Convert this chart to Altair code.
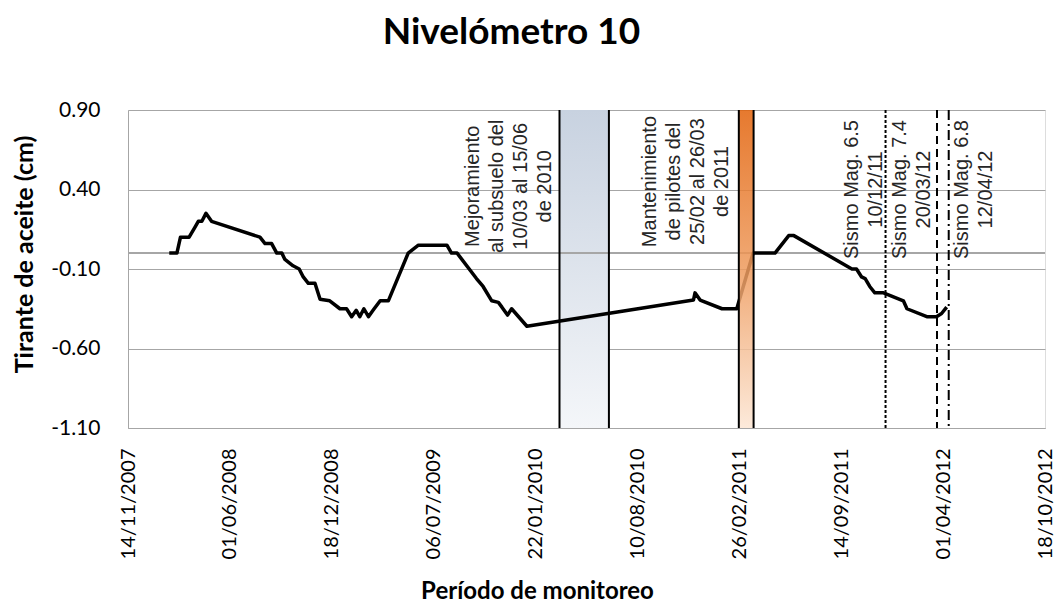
import altair as alt
import pandas as pd

# ---- data ----
fechas = [
    "2008-02-03", "2008-02-18", "2008-02-25", "2008-03-13", "2008-03-24", "2008-03-31",
    "2008-04-07", "2008-04-15", "2008-04-26", "2008-07-30", "2008-08-09", "2008-08-22",
    "2008-09-01", "2008-09-11", "2008-09-17", "2008-10-03", "2008-10-15", "2008-10-23",
    "2008-11-02", "2008-11-15", "2008-11-25", "2008-12-14", "2009-01-03", "2009-01-16",
    "2009-01-26", "2009-02-04", "2009-02-11", "2009-02-19", "2009-02-28", "2009-03-09",
    "2009-03-23", "2009-04-08", "2009-05-17", "2009-06-06", "2009-08-01", "2009-08-10",
    "2009-08-21", "2009-09-28", "2009-10-11", "2009-10-28", "2009-11-10", "2009-11-17",
    "2009-11-28", "2009-12-06", "2010-01-05", "2010-11-28", "2010-12-01", "2010-12-11",
    "2011-01-23", "2011-02-21", "2011-03-25", "2011-05-07", "2011-06-03", "2011-06-13",
    "2011-10-05", "2011-10-14", "2011-10-24", "2011-10-31", "2011-11-09", "2011-11-19",
    "2011-12-06", "2012-01-14", "2012-01-21", "2012-02-29", "2012-03-19", "2012-03-29",
    "2012-04-08",
]
tirante = [
    0.00, 0.00, 0.10, 0.10, 0.16, 0.20,
    0.20, 0.25, 0.20, 0.10, 0.06, 0.06,
    0.00, 0.00, -0.04, -0.08, -0.10, -0.15,
    -0.19, -0.19, -0.29, -0.30, -0.35, -0.35,
    -0.40, -0.36, -0.40, -0.35, -0.40, -0.36,
    -0.30, -0.30, 0.00, 0.05, 0.05, 0.00,
    0.00, -0.16, -0.21, -0.30, -0.31, -0.34,
    -0.39, -0.35, -0.46, -0.295, -0.25, -0.295,
    -0.35, -0.35, 0.00, 0.00, 0.11, 0.11,
    -0.10, -0.10, -0.15, -0.16, -0.21, -0.25,
    -0.25, -0.30, -0.35, -0.40, -0.40, -0.38,
    -0.34,
]

banda_azul = ["2010-03-10", "2010-06-15"]
banda_naranja = ["2011-02-25", "2011-03-26"]
sismos = ["2011-12-10", "2012-03-20", "2012-04-12"]

textos = [
    "Mejoramiento\nal subsuelo del\n10/03 al 15/06\nde 2010",
    "Mantenimiento\nde pilotes del\n25/02 al 26/03\nde 2011",
    "Sismo Mag.  6.5\n10/12/11",
    "Sismo Mag.  7.4\n20/03/12",
    "Sismo Mag.  6.8\n12/04/12",
]
fechas_texto = ["2010-03-10", "2011-02-25", "2011-12-10", "2012-03-20", "2012-04-12"]
altura_texto = [0.42, 0.45, 0.40, 0.40, 0.40]

x_ticks = ["2007-11-14", "2008-06-01", "2008-12-18", "2009-07-06", "2010-01-22",
           "2010-08-10", "2011-02-26", "2011-09-14", "2012-04-01", "2012-10-18"]
y_ticks = [-1.10, -0.60, -0.10, 0.40, 0.90]

# ---- scales / axes ----
def ms(s):
    return int(pd.Timestamp(s, tz="UTC").value // 10**6)

x_vals = [ms(d) for d in x_ticks]
xscale = alt.Scale(type="utc", domain=[x_vals[0], x_vals[-1]])
yscale = alt.Scale(domain=[y_ticks[0], y_ticks[-1]], nice=False, zero=False)

GRID = "#A6A6A6"
xaxis = alt.Axis(
    values=x_vals, labelExpr="utcFormat(datum.value, '%d/%m/%Y')",
    labelAngle=270, labelFont="Lato", labelFontSize=20, labelColor="#000000",
    labelPadding=20, ticks=False, grid=False, domainColor=GRID, domainWidth=1,
    title="Período de monitoreo", titleFont="Lato", titleFontWeight="bold",
    titleFontSize=24, titleColor="#000000", titleX=409, titleY=170,
    titleAlign="center", titleBaseline="alphabetic", labelOverlap=False,
)
yaxis = alt.Axis(
    values=y_ticks, labelExpr="replace(format(datum.value, '.2f'), '\u2212', '-')",
    labelFont="Lato", labelFontSize=21,
    labelColor="#000000", labelPadding=28, ticks=False, grid=True,
    gridColor=GRID, gridWidth=1, domainColor=GRID, domainWidth=1,
    title="Tirante de aceite (cm)", titleFont="Lato", titleFontWeight="bold",
    titleFontSize=25, titleColor="#000000", titleX=-96, titleY=144,
    titleAngle=270, titleAlign="center", titleBaseline="alphabetic",
)

def X(field):
    return alt.X(field, type="temporal", scale=xscale, axis=xaxis)

def Y(field):
    return alt.Y(field, type="quantitative", scale=yscale, axis=yaxis)

df = pd.DataFrame({"fecha": fechas, "tirante": tirante})

grad_azul = {"gradient": "linear", "x1": 0, "x2": 0, "y1": 0, "y2": 1,
             "stops": [{"offset": 0, "color": "#C8D2E0"},
                       {"offset": 1, "color": "#F4F6F9"}]}
grad_naranja = {"gradient": "linear", "x1": 0, "x2": 0, "y1": 0, "y2": 1,
                "stops": [{"offset": 0, "color": "#E2620A"},
                          {"offset": 0.5, "color": "#EE9A5C"},
                          {"offset": 1, "color": "#FCE6D4"}]}

azul_df = pd.DataFrame({"inicio": [banda_azul[0]], "fin": [banda_azul[1]]})
naranja_df = pd.DataFrame({"inicio": [banda_naranja[0]], "fin": [banda_naranja[1]]})

band_blue = alt.Chart(azul_df).mark_rect(fill=grad_azul).encode(
    x=X("inicio"), x2="fin")
band_orange = alt.Chart(naranja_df).mark_rect(fill=grad_naranja, opacity=0.85).encode(
    x=X("inicio"), x2="fin")

zero = alt.Chart(df).mark_rule(color=GRID, strokeWidth=1).encode(y=alt.datum(0))

line = alt.Chart(df).mark_line(color="#000000", strokeWidth=3.5, strokeJoin="round").encode(
    x=X("fecha"), y=Y("tirante"))

bordes_df = pd.DataFrame({"fecha": banda_azul + banda_naranja})
bordes = alt.Chart(bordes_df).mark_rule(color="#000000", strokeWidth=2).encode(x=X("fecha"))

dashes = [[3, 2], [8, 5], [10, 4, 2, 4]]
sismo_layers = [
    alt.Chart(pd.DataFrame({"fecha": [s]})).mark_rule(
        color="#000000", strokeWidth=2, strokeDash=d).encode(x=X("fecha"))
    for s, d in zip(sismos, dashes)
]

desplaz = [-86, -89, -34, -37, 13]
text_layers = []
for t, f, h, dy in zip(textos, fechas_texto, altura_texto, desplaz):
    tdf = pd.DataFrame({"fecha": [f], "texto": [t], "h": [h]})
    text_layers.append(
        alt.Chart(tdf).mark_text(
            angle=270, align="center", baseline="middle", lineBreak="\n",
            lineHeight=24, font="Liberation Sans", fontSize=20, color="#262626",
            dy=dy,
        ).encode(x=X("fecha"), y=Y("h"), text="texto:N")
    )

chart = alt.layer(
    band_blue, zero, line, band_orange, bordes, *sismo_layers, *text_layers
).properties(
    width=917, height=318,
    title=alt.TitleParams("Nivelómetro 10", font="Lato", fontWeight="bold",
                          fontSize=37, color="#000000", anchor="middle",
                          dx=-75, offset=47),
    autosize=alt.AutoSizeParams(type="none"),
    padding={"left": 120, "top": 102, "right": 10, "bottom": 176},
).configure_view(stroke=None).configure(background="white")

chart.save("out.html", embed_options={"renderer": "svg", "actions": False})
